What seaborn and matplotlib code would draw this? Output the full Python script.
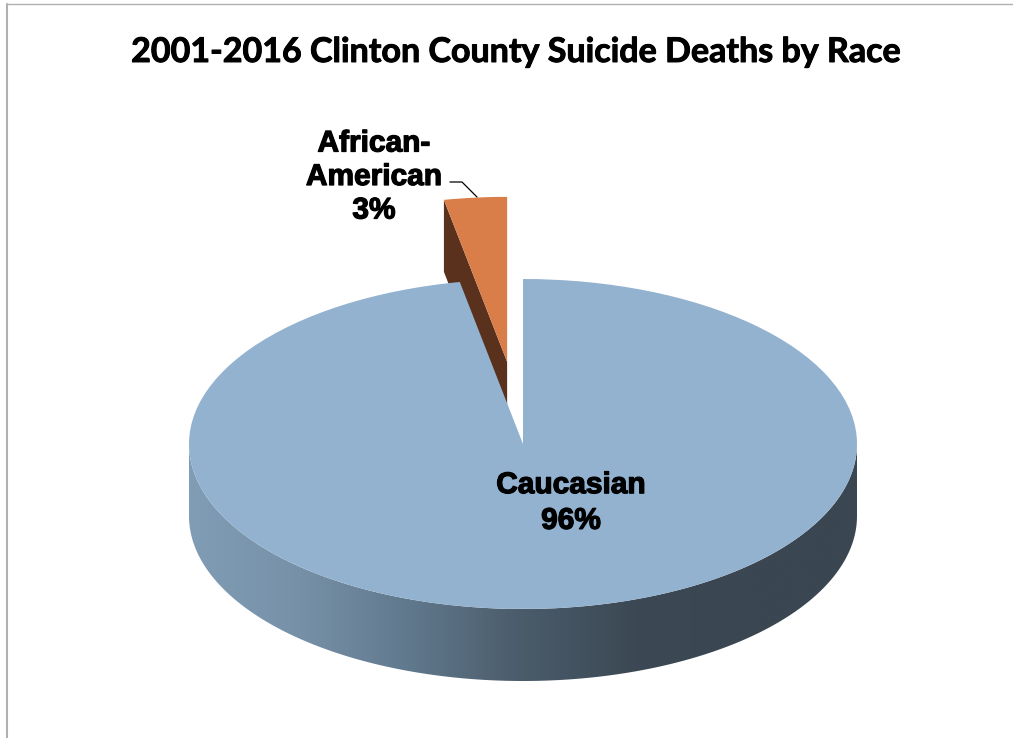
import numpy as np
import matplotlib
matplotlib.use("Agg")
import matplotlib.pyplot as plt
from matplotlib.transforms import Affine2D
from matplotlib.patches import Polygon
from matplotlib.lines import Line2D
import matplotlib.patheffects as pe
import seaborn as sns

# ---- data ----
categories = ["African-American", "Caucasian"]
values = [3, 96]
value_labels = ["3%", "96%"]
slice_colors = ["#d97e48", "#92b2d0"]
title = "2001-2016 Clinton County Suicide Deaths by Race"

sns.set_style("white")

W, H = 1013, 738
fig = plt.figure(figsize=(W / 100, H / 100), dpi=100)
ax = fig.add_axes([0, 0, 1, 1])

# geometry (pixel based)
PX = 334.0           # pixels per unit radius
CX, CY = 523, 444    # pie centre in pixels (from top-left)
K = 165.0 / PX       # vertical squash of the tilted pie
T = 72.0 / PX        # thickness of the pie


def p2d(px, py):
    return ((px - CX) / PX, (CY - py) / PX)


wedges, _ = ax.pie(values, colors=slice_colors, startangle=90,
                   counterclock=True, explode=[0.5, 0],
                   wedgeprops=dict(linewidth=0))
squash = Affine2D().scale(1, K) + ax.transData
for w in wedges:
    w.set_transform(squash)

ax.set_xlim(-CX / PX, (W - CX) / PX)
ax.set_ylim(-(H - CY) / PX, CY / PX)
ax.set_aspect("auto")
ax.axis("off")

# --- African-American exploded slice: visible radial face ---
w0 = wedges[0]
c0 = np.array(w0.center)
th = np.deg2rad(w0.theta2)
p_out = c0 + w0.r * np.array([np.cos(th), np.sin(th)])
top_c = np.array([c0[0], c0[1] * K])
top_p = np.array([p_out[0], p_out[1] * K])
face = Polygon([top_c, top_p, top_p - [0, T], top_c - [0, T]], closed=True,
               facecolor="#5a311d", edgecolor="none", zorder=1)
ax.add_patch(face)
w0.set_zorder(2)

# --- Caucasian slice: front side wall with gradient ---
w1 = wedges[1]
c1 = np.array(w1.center)
a1, a2 = w1.theta1, w1.theta2
lo, hi = max(a1, 180), min(a2, 360)
ts = np.deg2rad(np.linspace(lo, hi, 300))
top_edge = np.column_stack([c1[0] + np.cos(ts), (c1[1] + np.sin(ts)) * K])
bot_edge = top_edge[::-1] - [0, T]
side = Polygon(np.vstack([top_edge, bot_edge]), closed=True,
               facecolor="none", edgecolor="none", zorder=3)
ax.add_patch(side)
cmap = sns.blend_palette(["#809db5", "#7690a7", "#60788c", "#4a5b6a",
                          "#3c4955", "#3a4651", "#3a4651"], as_cmap=True)
grad = np.linspace(0, 1, 512).reshape(1, -1)
ymin = bot_edge[:, 1].min()
ymax = top_edge[:, 1].max()
img = ax.imshow(grad, cmap=cmap, aspect="auto", zorder=3,
                extent=[c1[0] - 1, c1[0] + 1, ymin, ymax + 0.01],
                interpolation="bilinear")
img.set_clip_path(side)
w1.set_zorder(4)
ax.set_xlim(-CX / PX, (W - CX) / PX)
ax.set_ylim(-(H - CY) / PX, CY / PX)

# --- labels ---
stroke = [pe.withStroke(linewidth=0.9, foreground="black")]
lab_font = dict(family="Liberation Sans", weight="bold", fontsize=21.5,
                color="black", ha="center", va="center", zorder=6,
                path_effects=stroke)
x, y = p2d(571, 503)
ax.text(x, y, f"{categories[1]}\n{value_labels[1]}", linespacing=1.35, **lab_font)
x, y = p2d(374, 177)
ax.text(x, y, "African-\nAmerican\n" + value_labels[0], linespacing=1.25, **lab_font)

lx, ly = zip(p2d(450, 182), p2d(462, 182), p2d(477, 197))
ax.plot(lx, ly, color="black", lw=0.9, zorder=6)

# --- title ---
fig.text(516 / W, 1 - 52 / H, title, family="Lato", weight="bold",
         fontsize=24.5, ha="center", va="center", color="black",
         path_effects=[pe.withStroke(linewidth=0.7, foreground="black")])

# --- chart border ---
fig.add_artist(Line2D([7 / W, 7 / W], [0, 1 - 4 / H], transform=fig.transFigure,
                      color="#b0b0b0", lw=1.5))
fig.add_artist(Line2D([7 / W, 1], [1 - 4 / H, 1 - 4 / H], transform=fig.transFigure,
                      color="#b0b0b0", lw=1.0))

fig.savefig("out.png", dpi=100)
